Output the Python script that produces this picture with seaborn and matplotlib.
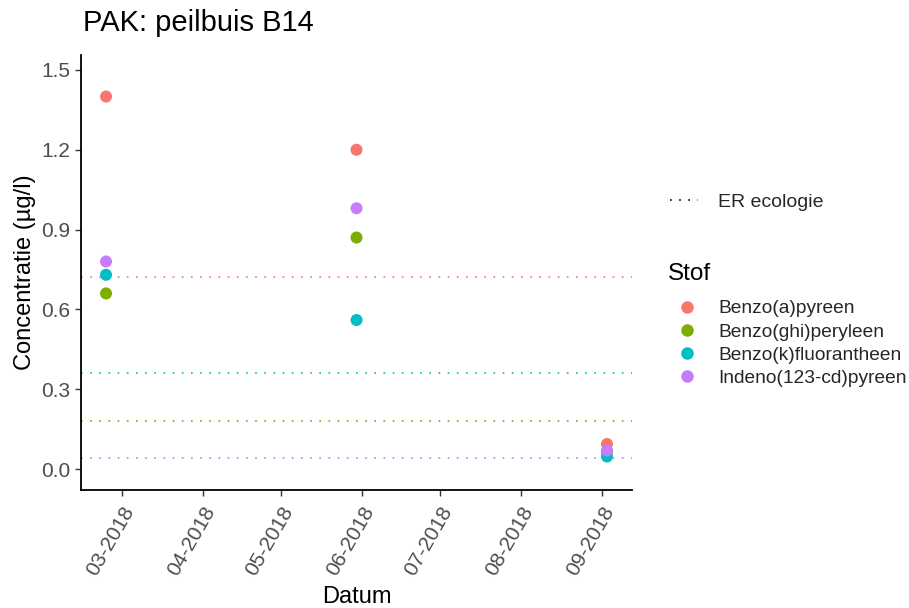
import matplotlib
matplotlib.use("Agg")
import matplotlib.pyplot as plt
import matplotlib.dates as mdates
from matplotlib.lines import Line2D
import numpy as np
import pandas as pd
import seaborn as sns

# Sample dates and measured PAH concentrations (µg/l) per compound
dates = ["2018-02-23", "2018-05-30", "2018-09-03"]
stoffen = ["Benzo(a)pyreen", "Benzo(ghi)peryleen", "Benzo(k)fluorantheen", "Indeno(123-cd)pyreen"]
benzo_a_pyreen = [1.40, 1.20, 0.094]
benzo_ghi_peryleen = [0.66, 0.87, 0.065]
benzo_k_fluorantheen = [0.73, 0.56, 0.047]
indeno_pyreen = [0.78, 0.98, 0.070]

# Ecological risk thresholds (ER ecologie) per compound
er_ecologie = [0.72, 0.18, 0.36, 0.04]

colors = ["#F8766D", "#7CAE00", "#00BFC4", "#C77CFF"]
yticks = [0.0, 0.3, 0.6, 0.9, 1.2, 1.5]

series = [benzo_a_pyreen, benzo_ghi_peryleen, benzo_k_fluorantheen, indeno_pyreen]
df = pd.DataFrame({
    "Datum": pd.to_datetime(np.tile(dates, len(stoffen))),
    "Concentratie": np.concatenate(series),
    "Stof": np.repeat(stoffen, len(dates)),
})

sns.set_theme(style="ticks")
plt.rcParams["font.family"] = ["Liberation Sans", "DejaVu Sans"]

fig = plt.figure(figsize=(9.09, 6.08), dpi=100)
ax = fig.add_axes([0.0891, 0.194, 0.6062, 0.7155])

palette = dict(zip(stoffen, colors))
dotted = (0, (1, 4.5))
for col, thr in zip(colors, er_ecologie):
    ax.axhline(thr, color=col, lw=1.2, linestyle=dotted, zorder=1)

sns.scatterplot(data=df, x="Datum", y="Concentratie", hue="Stof", palette=palette,
                s=75, edgecolor="none", linewidth=0, ax=ax, legend=False, zorder=3)

# x range with 5% padding around the sampling dates
d = pd.to_datetime(dates)
span = d.max() - d.min()
ax.set_xlim(mdates.date2num(d.min() - 0.05 * span), mdates.date2num(d.max() + 0.05 * span))
ax.set_ylim(-0.079, 1.556)

ax.xaxis.set_major_locator(mdates.MonthLocator())
ax.xaxis.set_major_formatter(mdates.DateFormatter("%m-%Y"))
ax.set_yticks(yticks)
ax.set_yticklabels([f"{v:.1f}" for v in yticks])

for lab in ax.get_xticklabels():
    lab.set_rotation(60)
    lab.set_ha("right")
    lab.set_rotation_mode("anchor")

ax.tick_params(axis="both", colors="#333333", labelcolor="#4D4D4D", labelsize=15,
               length=4, width=1.0)
ax.tick_params(axis="x", pad=5)
ax.tick_params(axis="y", pad=4)
for side in ["left", "bottom"]:
    ax.spines[side].set_linewidth(1.3)
    ax.spines[side].set_color("black")
sns.despine(ax=ax)

ax.set_xlabel("Datum", fontsize=17, color="black", labelpad=5.5)
ax.set_ylabel("Concentratie (µg/l)", fontsize=17, color="black", labelpad=3)
ax.set_title("PAK: peilbuis B14", loc="left", fontsize=21, color="black", pad=17, x=0.003)

# Legends: threshold linetype and compound colours
er_handle = [Line2D([0], [0], color="black", lw=1.2, linestyle=dotted)]
leg1 = fig.legend(er_handle, ["ER ecologie"], loc="center left",
                  bbox_to_anchor=(0.737, 0.668), frameon=False, fontsize=14,
                  handlelength=1.45, handletextpad=1.03, borderpad=0, borderaxespad=0)

fig.text(0.735, 1 - 274 / 608, "Stof", fontsize=17.5, color="black",
         ha="left", va="center")
st_handles = [Line2D([0], [0], marker="o", color="none", markerfacecolor=c,
                     markeredgecolor="none", markersize=9) for c in colors]
leg2 = fig.legend(st_handles, stoffen, loc="upper left",
                  bbox_to_anchor=(0.735, 1 - 300 / 608), frameon=False, fontsize=13.8,
                  handlelength=1.98, handletextpad=0.63,
                  labelspacing=0.3, borderpad=0, borderaxespad=0)

fig.savefig("out.png", dpi=100)
